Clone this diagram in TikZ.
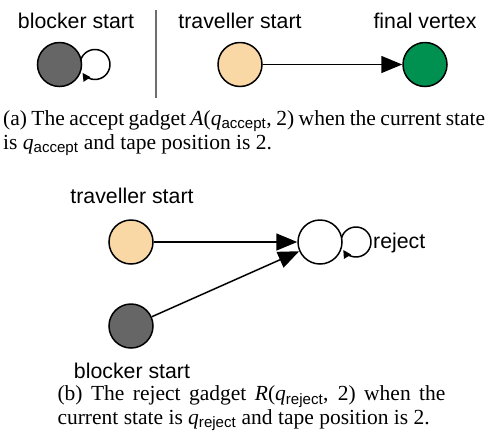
\documentclass[tikz,border=0pt]{standalone}
\usepackage{fontspec}
\setmainfont{Liberation Serif}
\setsansfont{Liberation Sans}
\usetikzlibrary{arrows.meta}
\definecolor{blockergray}{RGB}{102,102,102}
\definecolor{travelbeige}{RGB}{249,216,166}
\definecolor{finalgreen}{RGB}{0,145,80}
\definecolor{rulegray}{RGB}{110,110,110}

\tikzset{
  vertex/.style={circle, draw=black, line width=1.5pt, minimum size=44pt, inner sep=0pt},
  vlabel/.style={font=\sffamily\fontsize{21.3}{25}\selectfont, inner sep=0pt},
  bigarrow/.style={line width=1.5pt, -{Triangle[length=21pt,width=17pt]}},
  loopedge/.style={line width=1.5pt, -{Triangle[length=8pt,width=8pt]}},
  captiontext/.style={font=\fontsize{21.5}{23.5}\selectfont, inner sep=0pt, align=justify, anchor=north west}
}

\begin{document}
\begin{tikzpicture}[x=1pt, y=1pt]
    \useasboundingbox (0,0) rectangle (489,-437);

    % Accept gadget
    \node[vertex, fill=blockergray] (blkA) at (59.5,-64.5) {};
    \node[vertex, fill=travelbeige] (travA) at (240,-64.5) {};
    \node[vertex, fill=finalgreen] (finA) at (425,-64.5) {};
    \node[vlabel, anchor=base] (blkAlab) at (76,-28.3) {blocker start};
    \node[vlabel, anchor=base] (travAlab) at (240,-28.3) {traveller start};
    \node[vlabel, anchor=base] (finAlab) at (425,-28.3) {final vertex};
    \draw[loopedge] ([shift={(21,3.9)}]blkA.center) arc[start angle=165, end angle=-146, radius=15];
    \draw[bigarrow] (travA) -- (finA);

    % Trennlinie
    \draw[rulegray, line width=1.5pt] (156,-10) -- (156,-98);

    % Caption (a)
    \node[captiontext, text width=482pt] (capA) at (3,-110.5) {(a) The accept gadget \textit{A}(\textit{q}\textsubscript{\sffamily accept}, 2) when the current state\linebreak is \textit{q}\textsubscript{\sffamily accept} and tape position is 2.};

    % Reject gadget
    \node[vertex, fill=travelbeige] (travR) at (131,-242) {};
    \node[vertex, fill=blockergray] (blkR) at (131,-326) {};
    \node[vertex, fill=white] (rejR) at (320,-242) {};
    \node[vlabel, anchor=base] (travRlab) at (132,-203.3) {traveller start};
    \node[vlabel, anchor=base] (blkRlab) at (132,-378.3) {blocker start};
    \node[vlabel, anchor=base west] (rejRlab) at (373,-248.5) {reject};
    \draw[loopedge] ([shift={(21.5,3.9)}]rejR.center) arc[start angle=165, end angle=-148, radius=15];
    \draw[bigarrow] (travR) -- (rejR);
    \draw[bigarrow] (blkR) -- (rejR);

    % Caption (b)
    \node[captiontext, text width=388pt] (capB) at (57.3,-385.5) {(b) The reject gadget \textit{R}(\textit{q}\textsubscript{\sffamily reject}, 2) when the\linebreak current state is \textit{q}\textsubscript{\sffamily reject} and tape position is 2.};
\end{tikzpicture}
\end{document}
